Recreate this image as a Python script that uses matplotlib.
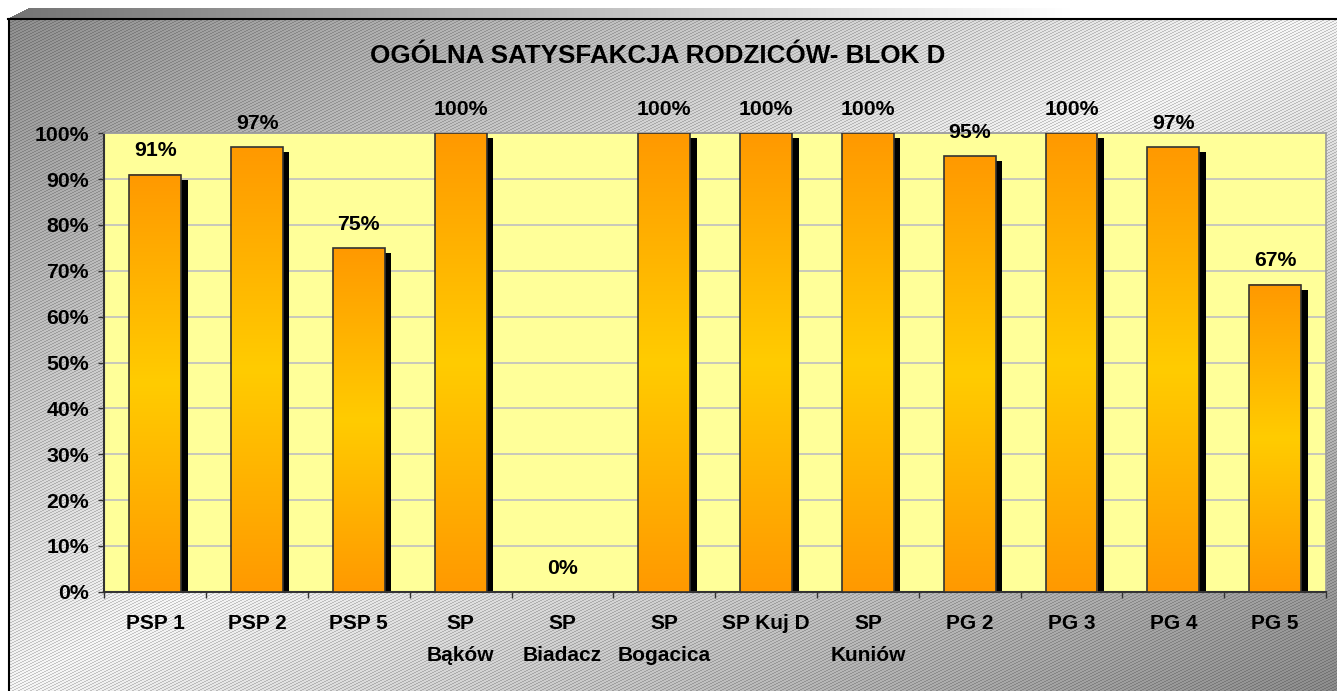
import numpy as np
import matplotlib
matplotlib.use("Agg")
import matplotlib.pyplot as plt
from matplotlib.patches import Rectangle
from matplotlib.transforms import ScaledTranslation
from matplotlib.colors import LinearSegmentedColormap

plt.rcParams['font.family'] = ['Liberation Sans', 'DejaVu Sans']
plt.rcParams['font.weight'] = 'bold'

categories = ["PSP 1", "PSP 2", "PSP 5", "SP\nBąków", "SP\nBiadacz", "SP\nBogacica",
              "SP Kuj D", "SP\nKuniów", "PG 2", "PG 3", "PG 4", "PG 5"]
values = [91, 97, 75, 100, 0, 100, 100, 100, 95, 100, 97, 67]
yticks = [0, 10, 20, 30, 40, 50, 60, 70, 80, 90, 100]
title = "OGÓLNA SATYSFAKCJA RODZICÓW- BLOK D"

W, H = 1337, 691
DPI = 100
fig = plt.figure(figsize=(W / DPI, H / DPI), dpi=DPI)

# background: diagonal gradient with fine hatching
yy, xx = np.mgrid[0:H, 0:W]
t = (xx / W + yy / H) / 2.0
dark, light = 0.55, 0.97
base = dark + (light - dark) * (1 - np.abs(2 * t - 1))
hatch = ((yy + xx // 2) % 3) == 0
img = np.where(hatch, base * 0.8, base)
band = (yy >= 8) & (yy < 18) & (xx >= 8 + (18 - yy) * 2)
bandval = 0.45 + 0.55 * np.clip(xx / (W * 0.8), 0, 1)
img = np.where(yy < 18, np.where(band, bandval, 1.0), img)
img = np.where((xx < 8) & (yy >= 18), 1.0, img)
rgb = np.dstack([img, img, img])
fig.figimage(rgb, xo=0, yo=0, origin='upper', zorder=0)

fig.add_artist(plt.Line2D([8 / W, 1], [1 - 18.5 / H, 1 - 18.5 / H], color='black', lw=1.5,
                          transform=fig.transFigure, zorder=1))
fig.add_artist(plt.Line2D([8.5 / W, 8.5 / W], [0, 1 - 18.5 / H], color='black', lw=1.5,
                          transform=fig.transFigure, zorder=1))

ax = fig.add_axes([104.3 / W, 1 - 591.7 / H, (1326 - 104.3) / W, (591.7 - 133.3) / H])
ax.set_zorder(2)
ax.set_facecolor('#FFFF99')

ax.set_yticks(yticks)
ax.set_yticklabels([f"{v}%" for v in yticks])
ax.yaxis.grid(True, color='#C0C0C0', lw=1.2)
ax.set_axisbelow(True)

x = np.arange(len(categories))
ax.set_xticks(x)
ax.set_xticklabels(categories, linespacing=1.85, va='top')
ax.set_xticks(np.arange(-0.5, len(categories)), minor=True)
ax.tick_params(axis='x', which='major', length=0, pad=16, labelsize=15)
ax.tick_params(axis='x', which='minor', length=4, width=1, color='#333333', direction='out')
ax.tick_params(axis='y', length=4, width=1, color='#333333', direction='out', pad=7,
               labelsize=15.3)

for s in ['top', 'right']:
    ax.spines[s].set_color('#9a9a9a')
    ax.spines[s].set_linewidth(1.2)
for s in ['left', 'bottom']:
    ax.spines[s].set_color('#333333')
    ax.spines[s].set_linewidth(1.5)

cmap = LinearSegmentedColormap.from_list('barg', ['#FF9900', '#FFCC00', '#FF9900'])
grad = np.linspace(0, 1, 256).reshape(-1, 1)
bw = 0.51
shadow_tr = ax.transData + ScaledTranslation(6.5 / DPI, -5 / DPI, fig.dpi_scale_trans)
for xi, v in zip(x, values):
    if v > 0:
        ax.add_patch(Rectangle((xi - bw / 2, 0), bw, v, facecolor='black', edgecolor='none',
                               transform=shadow_tr, zorder=2))
        ax.imshow(grad, cmap=cmap, aspect='auto', extent=[xi - bw / 2, xi + bw / 2, 0, v],
                  origin='lower', zorder=3, interpolation='bilinear')
        ax.add_patch(Rectangle((xi - bw / 2, 0), bw, v, facecolor='none', edgecolor='#333333',
                               lw=1.2, zorder=4))
    ax.annotate(f"{v}%", (xi, v), xytext=(0, 17), textcoords='offset points',
                ha='center', va='center', fontsize=15.3, fontweight='bold',
                annotation_clip=False, zorder=5)
ax.set_xlim(-0.5, len(categories) - 0.5)
ax.set_ylim(0, 100)

fig.text(657.5 / W, 1 - 56 / H, title, ha='center', va='center', fontsize=18.7,
         fontweight='bold')

fig.savefig("out.png", dpi=DPI)
